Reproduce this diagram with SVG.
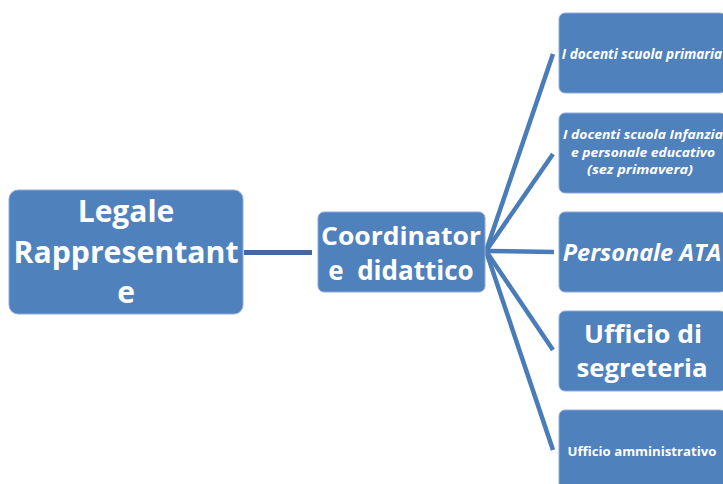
<svg xmlns="http://www.w3.org/2000/svg" width="723" height="484" viewBox="0 0 723 484">
<style>
.box{fill:#4F81BD;stroke:#8FAADC;stroke-width:1}
.t{fill:#fff;font-family:"Open Sans","Liberation Sans",sans-serif;font-weight:bold;text-anchor:middle}
.i{font-style:italic}
.c{stroke:#4A7CB8;stroke-width:4.5;fill:none;stroke-linecap:butt}
</style>
<rect width="723" height="484" fill="#fff"/>
<g id="connectors">
<line x1="244" y1="252.5" x2="312" y2="252.5" stroke="#41699F" stroke-width="5"/>
<line class="c" x1="486" y1="251" x2="553" y2="54"/>
<line class="c" x1="486" y1="251" x2="553" y2="154"/>
<line class="c" x1="486" y1="251" x2="554" y2="252"/>
<line class="c" x1="486" y1="251" x2="553" y2="350"/>
<line class="c" x1="486" y1="251" x2="553" y2="450"/>
</g>
<g id="legale">
<rect class="box" x="9" y="190" width="234" height="124" rx="9"/>
<text class="t" x="126" y="222" font-size="30">Legale</text>
<text class="t" x="126" y="263" font-size="30" textLength="225" lengthAdjust="spacingAndGlyphs">Rappresentant</text>
<text class="t" x="126" y="303" font-size="30">e</text>
</g>
<g id="coordinatore">
<rect class="box" x="318" y="212" width="167" height="80" rx="6"/>
<text class="t" x="401" y="245" font-size="25" textLength="160" lengthAdjust="spacingAndGlyphs">Coordinator</text>
<text class="t" x="401" y="280" font-size="26" xml:space="preserve">e  didattico</text>
</g>
<g id="primaria">
<rect class="box" x="559" y="13" width="167" height="80" rx="6"/>
<text class="t i" x="642" y="59" font-size="13.6">I docenti scuola primaria</text>
</g>
<g id="infanzia">
<rect class="box" x="559" y="113" width="167" height="80" rx="6"/>
<text class="t i" x="643" y="139" font-size="12.2" textLength="160" lengthAdjust="spacingAndGlyphs">I docenti scuola Infanzia</text>
<text class="t i" x="643" y="156.5" font-size="12.2" textLength="144" lengthAdjust="spacingAndGlyphs">e personale educativo</text>
<text class="t i" x="640" y="174" font-size="12.2" textLength="106" lengthAdjust="spacingAndGlyphs">(sez primavera)</text>
</g>
<g id="ata">
<rect class="box" x="559" y="212" width="167" height="80" rx="6"/>
<text class="t i" x="642" y="261" font-size="23.5">Personale ATA</text>
</g>
<g id="segreteria">
<rect class="box" x="559" y="311" width="167" height="80" rx="6"/>
<text class="t" x="643" y="343" font-size="25" textLength="118" lengthAdjust="spacingAndGlyphs">Ufficio di</text>
<text class="t" x="642" y="377" font-size="25" textLength="131" lengthAdjust="spacingAndGlyphs">segreteria</text>
</g>
<g id="amministrativo">
<rect class="box" x="559" y="410" width="167" height="80" rx="6"/>
<text class="t" x="642" y="456" font-size="13.2">Ufficio amministrativo</text>
</g>
</svg>
